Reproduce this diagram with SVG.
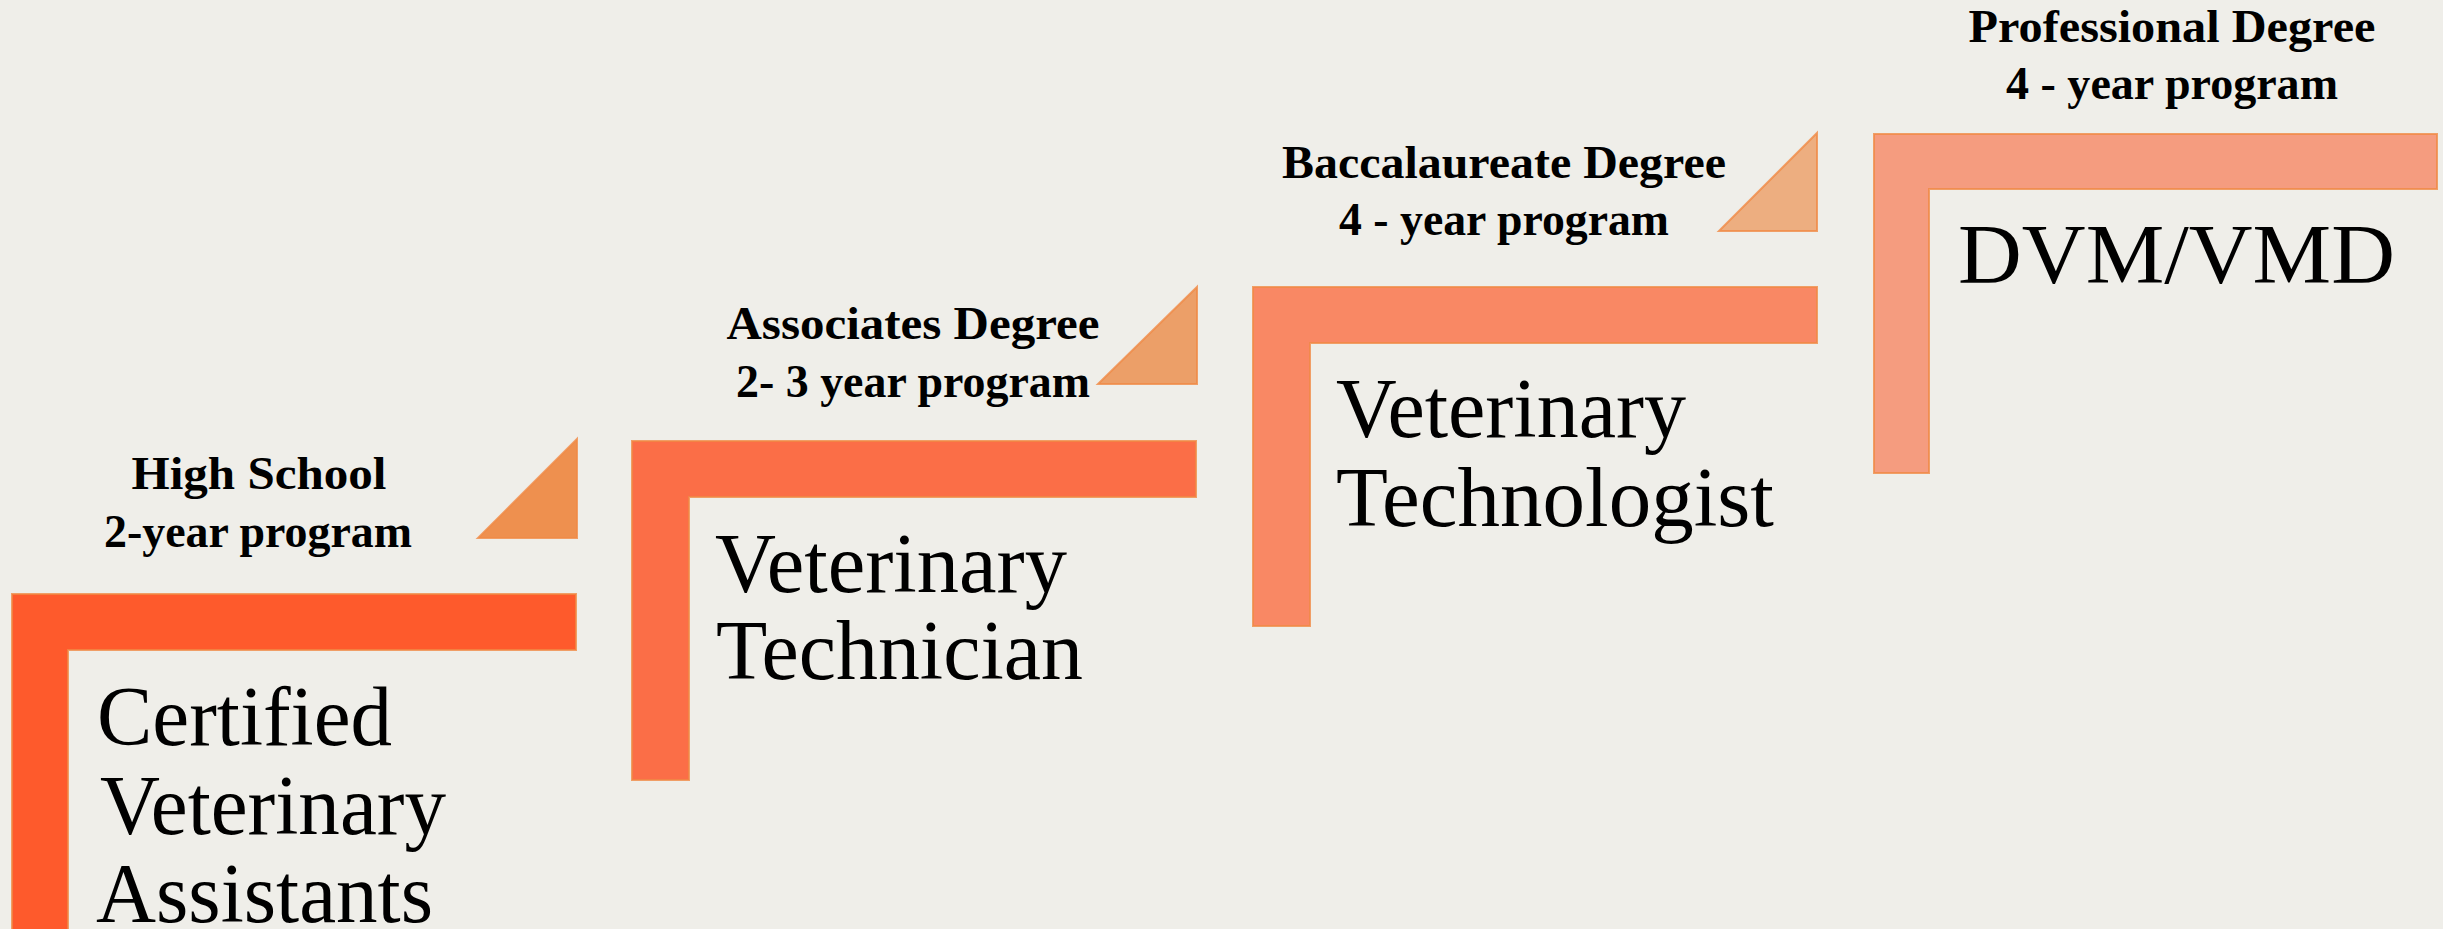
<svg xmlns="http://www.w3.org/2000/svg" width="2443" height="929" viewBox="0 0 2443 929">
<style>
.bg{fill:#EFEEE9}
.ell{stroke:#F08A45;stroke-width:2;stroke-opacity:0.8}
.tri{stroke:#F08A45;stroke-width:2;stroke-opacity:0.8}
.lbl{font-family:"Liberation Serif","Times New Roman",serif;font-weight:bold;font-size:46px;fill:#000;text-anchor:middle}
.big{font-family:"Liberation Serif","Times New Roman",serif;font-size:84px;fill:#000}
</style>
<rect class="bg" x="0" y="0" width="2443" height="929"/>
<g id="connectors"/>
<g id="step1">
<path class="ell" fill="#FE5A2C" d="M12,594 H576 V650 H68 V935 H12 Z"/>
<path class="tri" fill="#EE904F" d="M478,538 L577,439 L577,538 Z"/>
<text class="lbl" x="259" y="489" textLength="255" lengthAdjust="spacingAndGlyphs">High School</text>
<text class="lbl" x="258" y="547" textLength="308" lengthAdjust="spacingAndGlyphs">2-year program</text>
<text class="big" x="97" y="745" textLength="295" lengthAdjust="spacingAndGlyphs">Certified</text>
<text class="big" x="100" y="834" textLength="346" lengthAdjust="spacingAndGlyphs">Veterinary</text>
<text class="big" x="96" y="922" textLength="337" lengthAdjust="spacingAndGlyphs">Assistants</text>
</g>
<g id="step2">
<path class="ell" fill="#FB6E47" d="M632,441 H1196 V497 H689 V780 H632 Z"/>
<path class="tri" fill="#EC9F68" d="M1098,384 L1197,287 L1197,384 Z"/>
<text class="lbl" x="913" y="339" textLength="373" lengthAdjust="spacingAndGlyphs">Associates Degree</text>
<text class="lbl" x="913" y="397" textLength="354" lengthAdjust="spacingAndGlyphs">2- 3 year program</text>
<text class="big" x="715" y="592" textLength="352" lengthAdjust="spacingAndGlyphs">Veterinary</text>
<text class="big" x="716" y="679" textLength="367" lengthAdjust="spacingAndGlyphs">Technician</text>
</g>
<g id="step3">
<path class="ell" fill="#F98864" d="M1253,287 H1817 V343 H1310 V626 H1253 Z"/>
<path class="tri" fill="#EDAE80" d="M1719,231 L1817,133 L1817,231 Z"/>
<text class="lbl" x="1504" y="178" textLength="444" lengthAdjust="spacingAndGlyphs">Baccalaureate Degree</text>
<text class="lbl" x="1504" y="235" textLength="330" lengthAdjust="spacingAndGlyphs">4 - year program</text>
<text class="big" x="1336" y="437" textLength="350" lengthAdjust="spacingAndGlyphs">Veterinary</text>
<text class="big" x="1336" y="526" textLength="438" lengthAdjust="spacingAndGlyphs">Technologist</text>
</g>
<g id="step4">
<path class="ell" fill="#F59C7F" d="M1874,134 H2437 V189 H1929 V473 H1874 Z"/>
<text class="lbl" x="2172" y="42" textLength="407" lengthAdjust="spacingAndGlyphs">Professional Degree</text>
<text class="lbl" x="2172" y="99" textLength="332" lengthAdjust="spacingAndGlyphs">4 - year program</text>
<text class="big" x="1958" y="283" textLength="437" lengthAdjust="spacingAndGlyphs">DVM/VMD</text>
</g>
</svg>
